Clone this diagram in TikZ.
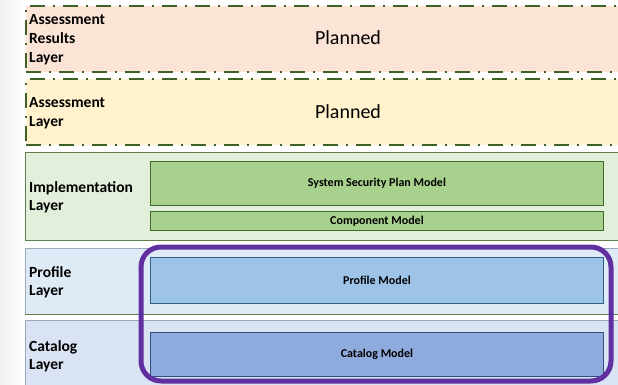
\documentclass[tikz,border=0pt]{standalone}
\usepackage{fontspec}
\setmainfont{Carlito}
\definecolor{arfill}{HTML}{FBE4D5}
\definecolor{asfill}{HTML}{FFF2CC}
\definecolor{dashgreen}{HTML}{3F6126}
\definecolor{implfill}{HTML}{E2EFDA}
\definecolor{implborder}{HTML}{5E7F4A}
\definecolor{sspfill}{HTML}{A9D18E}
\definecolor{sspborder}{HTML}{3E6A2B}
\definecolor{proffill}{HTML}{DEEBF7}
\definecolor{proflayerborder}{HTML}{9AAABA}
\definecolor{profmodel}{HTML}{9DC3E6}
\definecolor{profborder}{HTML}{2E5F8A}
\definecolor{catfill}{HTML}{DAE3F3}
\definecolor{catmodel}{HTML}{8FAADC}
\definecolor{catborder}{HTML}{2F4F7F}
\definecolor{purp}{HTML}{6030A0}
\begin{document}
\begin{tikzpicture}[x=1pt,y=-1pt,
  plannedlayer/.style={rectangle, draw=dashgreen, line width=2pt,
    dash pattern=on 15pt off 8pt on 2pt off 8pt, anchor=north west,
    minimum width=620pt, minimum height=66pt, inner sep=0pt},
  layerbox/.style={rectangle, line width=0.8pt, anchor=north west,
    minimum width=620pt, inner sep=0pt},
  modelbox/.style={rectangle, line width=0.9pt, anchor=north west,
    minimum width=453pt, inner sep=0pt,
    font=\bfseries\fontsize{12}{14}\selectfont},
  lbl/.style={anchor=north west, align=left, inner sep=0pt,
    font=\bfseries\fontsize{15.5}{18}\selectfont},
  plannedtxt/.style={anchor=base, inner sep=0pt,
    font=\fontsize{20}{24}\selectfont},
  highlight/.style={draw=purp, line width=5pt, rounded corners=20pt}
]
\path[use as bounding box] (0,0) rectangle (618,385);
\begin{scope}
\clip (0,0) rectangle (618,385);
\shade[left color=black!6, right color=white] (0,0) rectangle (25,385);
% Assessment Results layer
\node[plannedlayer, fill=arfill] (ar) at (25,5) {};
\node[lbl, font=\bfseries\fontsize{15.5}{19}\selectfont] (arl) at (29,14) {Assessment\\Results\\Layer};
\node[plannedtxt] (arp) at (348,45) {Planned};
% Assessment layer
\node[plannedlayer, fill=asfill] (as) at (25,78) {};
\node[lbl, font=\bfseries\fontsize{15.5}{19}\selectfont] (asl) at (29,97) {Assessment\\Layer};
\node[plannedtxt] (asp) at (348,118) {Planned};
% Implementation layer
\node[layerbox, draw=implborder, fill=implfill, minimum height=88pt] (impl) at (25,152) {};
\node[lbl] (impll) at (29,181) {Implementation\\Layer};
\node[modelbox, draw=sspborder, fill=sspfill, minimum height=44pt] (ssp) at (150,161) {System Security Plan Model};
\node[modelbox, draw=sspborder, fill=sspfill, minimum height=19pt] (comp) at (150,211) {Component Model};
% Profile layer
\node[layerbox, draw=proflayerborder, fill=proffill, minimum height=66pt] (prof) at (25,248) {};
\draw[implborder, line width=0.8pt] (prof.south west) -- (prof.south east);
\node[lbl] (profl) at (29,266) {Profile\\Layer};
\node[modelbox, draw=profborder, fill=profmodel, minimum height=46pt] (pm) at (150,257) {Profile Model};
% Catalog layer
\node[layerbox, draw=proflayerborder, fill=catfill, minimum height=90pt] (cat) at (25,320) {};
\node[lbl] (catl) at (29,340) {Catalog\\Layer};
\node[modelbox, draw=catborder, fill=catmodel, minimum height=44pt] (cm) at (150,332) {Catalog Model};
% highlight
\draw[highlight] (141,247) rectangle (611,381);
\end{scope}
\end{tikzpicture}
\end{document}
